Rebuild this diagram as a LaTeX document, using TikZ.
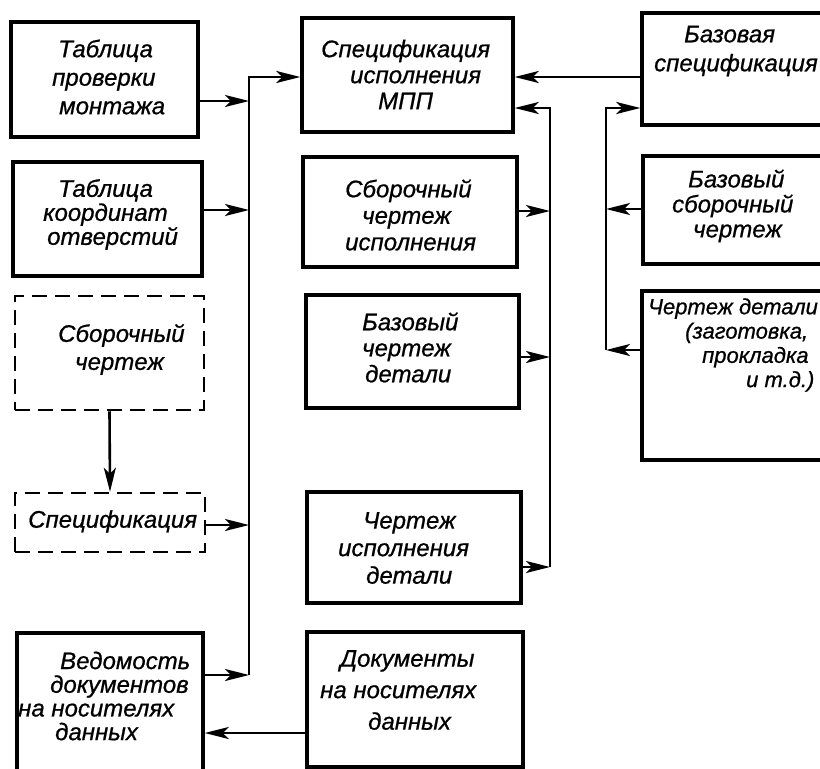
\documentclass[tikz,border=0pt]{standalone}
\usepackage{fontspec}
\setmainfont{Liberation Sans}[ItalicFeatures={FakeBold=0.8}]
\usetikzlibrary{arrows.meta}
\begin{document}
\begin{tikzpicture}[x=1pt,y=-1pt,
  box/.style={draw, line width=3.4pt, inner sep=0pt},
  dbox/.style={draw, line width=2.5pt, dash pattern=on 15pt off 8pt, inner sep=0pt},
  lbl/.style={anchor=west, align=left, inner sep=0pt, font=\fontsize{24pt}{#1pt}\selectfont\itshape},
  lbl/.default=26,
  conn/.style={line width=2.6pt},
  arr/.style={conn, -{Stealth[length=24pt,width=12pt,inset=6pt]}}
]
\path[use as bounding box, clip] (0,0) rectangle (820,769);
\fill[white] (0,0) rectangle (820,769);

% boxes
\node[box, minimum width=187pt, minimum height=115pt] (A) at (104.5,79.5) {};
\node[box, minimum width=189pt, minimum height=114pt] (B) at (107.5,219) {};
\node[box, minimum width=211pt, minimum height=114pt] (C) at (407.5,75) {};
\node[box, minimum width=214pt, minimum height=110pt] (D) at (410,212) {};
\node[box, minimum width=213pt, minimum height=113pt] (E) at (412.5,351.5) {};
\node[box, minimum width=214pt, minimum height=111pt] (F) at (414,547.5) {};
\node[box, minimum width=218pt, minimum height=112pt] (G) at (751,69) {};
\node[box, minimum width=217pt, minimum height=108pt] (H) at (751.5,210) {};
\node[box, minimum width=218pt, minimum height=169pt] (I) at (751,375.5) {};
\node[dbox, minimum width=189pt, minimum height=114pt] (J) at (109.5,353) {};
\node[dbox, minimum width=190pt, minimum height=59pt] (K) at (110,522.5) {};
\node[box, minimum width=186pt, minimum height=167pt] (L) at (110,716.5) {};
\node[box, minimum width=216pt, minimum height=135pt] (M) at (415,699.5) {};

% texts
\node[lbl=28.5] (tA) at (52,77) {\hspace*{6pt}Таблица\\проверки\\\hspace*{7pt}монтажа};
\node[lbl=24] (tB) at (43,214.5) {\hspace*{15pt}Таблица\\координат\\\hspace*{4pt}отверстий};
\node[lbl=26] (tC) at (321,74.5) {Спецификация\\\hspace*{29pt}исполнения\\\hspace*{57pt}МПП};
\node[lbl=26.5] (tD) at (345,215) {Сборочный\\\hspace*{17pt}чертеж\\исполнения};
\node[lbl=26] (tE) at (362,347.5) {Базовый\\чертеж\\\hspace*{3pt}детали};
\node[lbl=27.5] (tF) at (338,548) {\hspace*{25pt}Чертеж\\исполнения\\\hspace*{28pt}детали};
\node[lbl=29] (tG) at (654,51) {\hspace*{30pt}Базовая\\спецификация};
\node[lbl=25] (tH) at (672,206) {\hspace*{16pt}Базовый\\сборочный\\\hspace*{21pt}чертеж};
\node[lbl=24.3, font=\fontsize{22pt}{24.3pt}\selectfont\itshape] (tI) at (648,345) {Чертеж детали\\\hspace*{37pt}(заготовка,\\\hspace*{54pt}прокладка\\\hspace*{98pt}и т.д.)};
\node[lbl=28] (tJ) at (58,349.5) {Сборочный\\\hspace*{17pt}чертеж};
\node[lbl] (tK) at (28,521.5) {Спецификация};
\node[lbl=23.7] (tL) at (18,696) {\hspace*{42pt}Ведомость\\\hspace*{32pt}документов\\на носителях\\\hspace*{37pt}данных};
\node[lbl=31.5] (tM) at (320,690) {\hspace*{20pt}Документы\\на носителях\\\hspace*{48pt}данных};

% junction coordinates
\coordinate (bt) at (249,77);
\coordinate (j1) at (249,101);
\coordinate (j2) at (249,210);
\coordinate (j3) at (249,525);
\coordinate (j4) at (249,675);
\coordinate (rt) at (550,108);
\coordinate (r1) at (550,211);
\coordinate (r2) at (550,357);
\coordinate (r3) at (550,567);
\coordinate (st) at (606,108);
\coordinate (s1) at (606,209);
\coordinate (s2) at (606,350);
\coordinate (lm) at (0,733);

% left bus
\draw[arr] (A.east |- j1) -- (j1);
\draw[arr] (B.east |- j2) -- (j2);
\draw[arr] (K.east |- j3) -- (j3);
\draw[arr] (L.east |- j4) -- (j4);
\draw[arr] (j4) -- (bt) -- (C.west |- bt);
\draw[arr] (J.south) -- (K.north);

% base specification to C
\draw[arr] (G.west |- bt) -- (C.east |- bt);

% right bus into C
\draw[arr] (D.east |- r1) -- (r1);
\draw[arr] (E.east |- r2) -- (r2);
\draw[arr] (F.east |- r3) -- (r3);
\draw[arr] (r3) -- (rt) -- (C.east |- rt);

% far right bus into G
\draw[arr] (s2) -- (st) -- (G.west |- st);
\draw[arr] (H.west |- s1) -- (s1);
\draw[arr] (I.west |- s2) -- (s2);

% documents to list
\draw[arr] (M.west |- lm) -- (L.east |- lm);
\end{tikzpicture}
\end{document}
